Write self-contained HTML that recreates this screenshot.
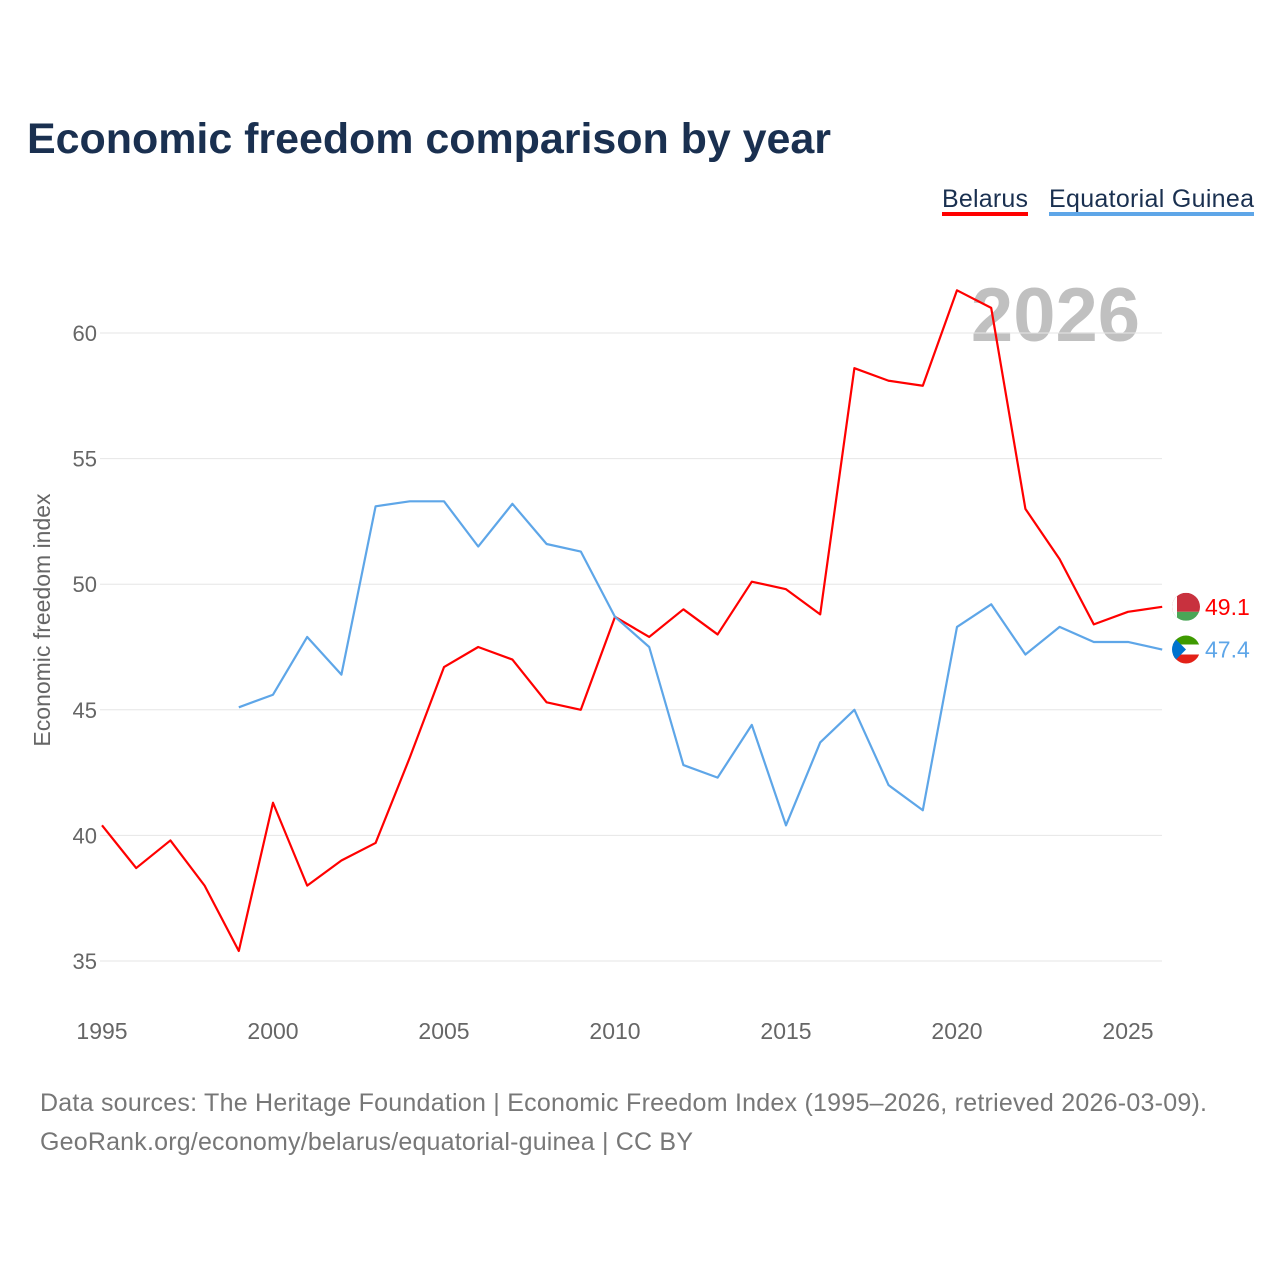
<!DOCTYPE html>
<html><head><meta charset="utf-8"><style>
body{margin:0;background:#fff;font-family:"Liberation Sans",sans-serif}
#wrap{position:relative;width:1280px;height:1280px}
</style></head><body>
<div id="wrap">
<svg id="chart" width="1280" height="1280" xmlns="http://www.w3.org/2000/svg">
<defs>
<clipPath id="c1"><circle cx="1186" cy="0" r="14"></circle></clipPath>
</defs>
<text x="27" y="153" font-size="43" font-weight="bold" fill="#1a3050" textLength="804">Economic freedom comparison by year</text>
<g>
<text x="942" y="207" font-size="25" fill="#1a3050" textLength="86">Belarus</text>
<rect x="942" y="212" width="86" height="4" fill="#ff0000"></rect>
<text x="1049" y="207" font-size="25" fill="#1a3050" textLength="205">Equatorial Guinea</text>
<rect x="1049" y="212" width="205" height="4" fill="#5ea6e8"></rect>
</g>
<text x="1140" y="341" font-size="76" font-weight="bold" fill="#c0c0c0" text-anchor="end">2026</text>
<text transform="translate(50,620) rotate(-90)" font-size="23" fill="#666" text-anchor="middle">Economic freedom index</text>
<g id="grid"></g><g id="xt"></g><g id="lines"></g>
<text x="40" y="1111" font-size="25" fill="#777" textLength="1167">Data sources: The Heritage Foundation | Economic Freedom Index (1995–2026, retrieved 2026-03-09).</text>
<text x="40" y="1150" font-size="25" fill="#777" textLength="653">GeoRank.org/economy/belarus/equatorial-guinea | CC BY</text>
</svg></div>
<script>
const years=[1995,1996,1997,1998,1999,2000,2001,2002,2003,2004,2005,2006,2007,2008,2009,2010,2011,2012,2013,2014,2015,2016,2017,2018,2019,2020,2021,2022,2023,2024,2025,2026];
const belarus=[40.4,38.7,39.8,38.0,35.4,41.3,38.0,39.0,39.7,43.1,46.7,47.5,47.0,45.3,45.0,48.7,47.9,49.0,48.0,50.1,49.8,48.8,58.6,58.1,57.9,61.7,61.0,53.0,51.0,48.4,48.9,49.1];
const eqGuinea=[null,null,null,null,45.1,45.6,47.9,46.4,53.1,53.3,53.3,51.5,53.2,51.6,51.3,48.7,47.5,42.8,42.3,44.4,40.4,43.7,45.0,42.0,41.0,48.3,49.2,47.2,48.3,47.7,47.7,47.4];
const yTicks=[35,40,45,50,55,60];
const xTicks=[1995,2000,2005,2010,2015,2020,2025];
const NS="http://www.w3.org/2000/svg";
const x=v=>102+(v-1995)*34.2;
const y=v=>961-(v-35)*25.12;
function mk(t,a,p){const e=document.createElementNS(NS,t);for(const k in a)e.setAttribute(k,a[k]);p.appendChild(e);return e;}
const grid=document.getElementById('grid');
yTicks.forEach(v=>{
 const l=mk('line',{x1:100,x2:1162,y1:y(v),y2:y(v),stroke:'#e6e6e6','stroke-width':1},grid);
 
 
 const t=mk('text',{x:97,y:y(v)+8,'font-size':22,fill:'#666','text-anchor':'end'},grid);
 t.textContent=v;
 
 
});
const xt=document.getElementById('xt');
xTicks.forEach(v=>{
 const t=mk('text',{x:x(v),y:1039,'font-size':23,fill:'#666','text-anchor':'middle'},xt);
 t.textContent=v;
 
 
});
const lines=document.getElementById('lines');
function flag(cy,name){
 const g=mk('g',{transform:'translate(0,'+cy+')','clip-path':'url(#c1)'},lines);
 
 
 if(name==='belarus'){
  mk('rect',{x:1172,y:-14,width:28,height:19,fill:'#c8313e'},g);
  mk('rect',{x:1172,y:5,width:28,height:9,fill:'#4aa657'},g);
  mk('rect',{x:1172,y:-14,width:5,height:28,fill:'#fff'},g);
 }else{
  mk('rect',{x:1172,y:-14,width:28,height:9,fill:'#3e9a00'},g);
  mk('rect',{x:1172,y:-5,width:28,height:10,fill:'#fff'},g);
  mk('rect',{x:1172,y:5,width:28,height:9,fill:'#e32118'},g);
  mk('path',{d:'M1172,-14L1186,0L1172,14Z',fill:'#0073ce'},g);
 }
}
function series(vals,col,name){
 let d='';vals.forEach((v,i)=>{if(v==null)return;d+=(d?'L':'M')+x(years[i])+','+y(v);});
 const p=mk('path',{d:d,fill:'none',stroke:col,'stroke-width':2.2,'stroke-linejoin':'round'},lines);
 
 
 const last=vals[vals.length-1];
 flag(y(last),name);
 const t=mk('text',{x:1205,y:y(last)+8,'font-size':23,fill:col},lines);
 t.textContent=last.toFixed(1);
 
 
}
series(belarus,'#ff0000','belarus');
series(eqGuinea,'#5ea6e8','equatorial-guinea');
</script>
</body></html>
